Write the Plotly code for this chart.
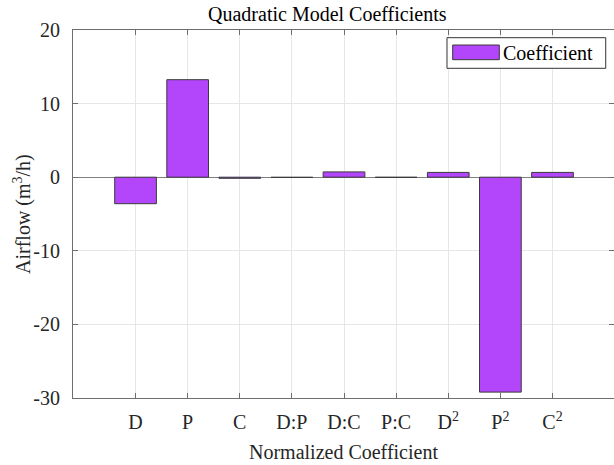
import plotly.graph_objects as go

categories = ["D", "P", "C", "D:P", "D:C", "P:C", "D<sup>2</sup>", "P<sup>2</sup>", "C<sup>2</sup>"]
positions = [1, 2, 3, 4, 5, 6, 7, 8, 9]
coefficients = [-3.6, 13.25, -0.15, -0.04, 0.72, -0.03, 0.65, -29.2, 0.65]
y_ticks = [20, 10, 0, -10, -20, -30]
y_tick_labels = ["20", "10", "0", "-10", "-20", "-30"]
series_name = "Coefficient"

FONT = "Liberation Serif"
FS = 20
BAR_COLOR = "#b346fb"
EDGE = "#3a3a3a"
AXIS = "#6e6e6e"
GRID = "#e6e6e6"

fig = go.Figure()
fig.add_trace(go.Bar(
    x=positions, y=coefficients, width=0.8, name=series_name,
    marker=dict(color=BAR_COLOR, line=dict(color=EDGE, width=1)),
    showlegend=False,
))

# manual legend box (MATLAB style)
fig.add_shape(type="rect", xref="paper", yref="paper",
              x0=0.6913, x1=0.9847, y0=0.8959, y1=0.9791,
              line=dict(color="#333333", width=1), fillcolor="white", layer="above")
fig.add_shape(type="rect", xref="paper", yref="paper",
              x0=0.7018, x1=0.7880, y0=0.9193, y1=0.9592,
              line=dict(color=EDGE, width=1), fillcolor=BAR_COLOR, layer="above")
fig.add_annotation(text=series_name, xref="paper", yref="paper",
                   x=0.7915, y=0.9385, xanchor="left", yanchor="middle",
                   showarrow=False, font=dict(family=FONT, size=FS, color="black"))

# y-axis title (MATLAB placement)
fig.add_annotation(text="Airflow (m<sup>3</sup>/h)", xref="paper", yref="paper",
                   x=-0.0943, y=0.5, xanchor="center", yanchor="middle",
                   textangle=-90, showarrow=False,
                   font=dict(family=FONT, size=FS, color="#262626"))

fig.update_layout(
    width=614, height=465,
    margin=dict(l=73, r=0, t=30, b=67),
    paper_bgcolor="white", plot_bgcolor="white",
    font=dict(family=FONT, size=FS, color="#262626"),
    title=dict(text="Quadratic Model Coefficients", x=0.47, xref="paper", xanchor="center",
               y=1 - 14 / 465, yref="container", yanchor="middle",
               font=dict(family=FONT, size=20, color="black")),
    bargap=0.2,
)
fig.update_xaxes(
    range=[-0.2, 10.18], tickvals=positions, ticktext=categories,
    ticks="inside", ticklen=5, tickcolor=AXIS, mirror="ticks",
    showline=True, linecolor=AXIS, linewidth=1,
    showgrid=True, gridcolor=GRID, zeroline=False,
    ticklabelstandoff=6,
    tickfont=dict(family=FONT, size=FS, color="#262626"),
    title=dict(text="Normalized Coefficient", standoff=12,
               font=dict(family=FONT, size=FS, color="#262626")),
)
fig.update_yaxes(
    range=[-30, 20], tickvals=y_ticks, ticktext=y_tick_labels,
    ticks="inside", ticklen=5, tickcolor=AXIS, mirror="ticks",
    showline=True, linecolor=AXIS, linewidth=1,
    showgrid=True, gridcolor=GRID,
    zeroline=True, zerolinecolor="#808080", zerolinewidth=1,
    ticklabelstandoff=8,
    tickfont=dict(family=FONT, size=FS, color="#262626"),
)

fig.write_html("out.html")
